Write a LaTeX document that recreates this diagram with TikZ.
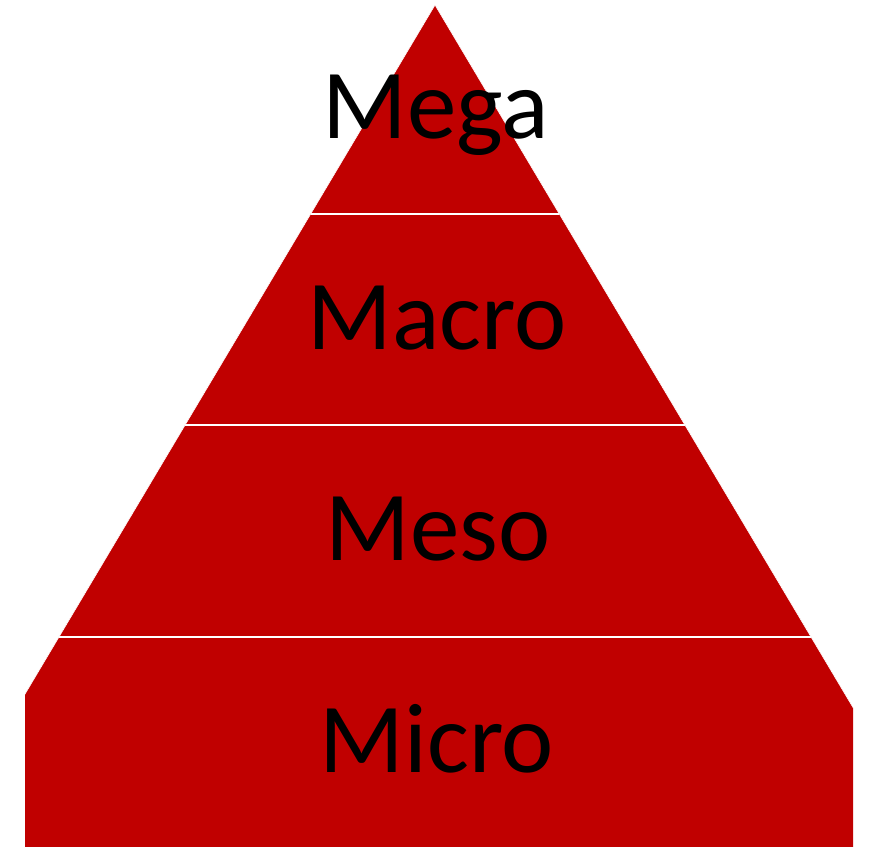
\documentclass[tikz,border=0pt]{standalone}
\usepackage{fontspec}
\setmainfont{Carlito}
\usepackage{xcolor}
\usepackage{tikz}
\usetikzlibrary{calc}
\definecolor{darkred}{HTML}{C00000}

\begin{document}
\begin{tikzpicture}[x=1pt,y=-1pt,
  level/.style={font=\fontsize{99}{110}\selectfont,anchor=base,inner sep=0pt}]
\useasboundingbox (0,0) rectangle (869,846);
% pyramid, cut off by the page
\begin{scope}
  \clip (25,0) rectangle (853,846);
  \coordinate (top) at (435,5);
  \coordinate (bl) at ($(top)+(-0.595*1000,1000)$);
  \coordinate (br) at ($(top)+(0.595*1000,1000)$);
  \fill[darkred,draw=white,line width=0.6pt] (top)--(bl)--(br)--cycle;
\end{scope}
% white separators
\foreach \y in {214,425,637}
  \draw[white,line width=1.6pt]
    ($(top)!{(\y-5)/1000}!(bl)$)--($(top)!{(\y-5)/1000}!(br)$);
% labels
\node[level] (mega) at (436,138) {Mega};
\node[level] (macro) at (437,349) {Macro};
\node[level] (meso) at (438,560) {Meso};
\node[level] (micro) at (437,772) {Micro};
\end{tikzpicture}
\end{document}
